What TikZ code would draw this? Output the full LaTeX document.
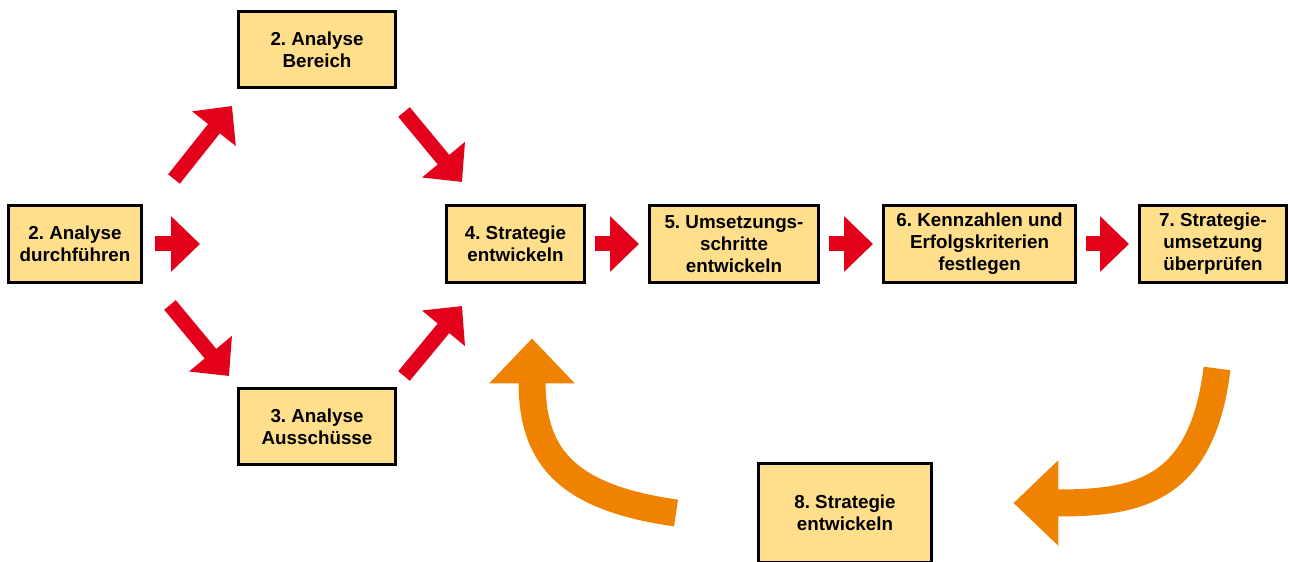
\documentclass[tikz,border=0pt]{standalone}
\usepackage{fontspec}
\setmainfont{Liberation Sans}
\usetikzlibrary{arrows.meta}
\frenchspacing
\definecolor{boxfill}{HTML}{FFDF8C}
\definecolor{arrowred}{HTML}{E2001A}
\definecolor{looporange}{HTML}{EF8200}
\tikzset{
    box/.style={draw=black, line width=1.7pt, fill=boxfill, align=center, inner sep=0pt,
        font=\bfseries\fontsize{10.7}{12.5}\selectfont, minimum height=1.54cm},
    redarrow/.style={draw=arrowred, line width=0.3cm, -{Triangle[width=1.08cm, length=0.58cm]}},
    bigarrow/.style={draw=looporange, line width=0.54cm, -{Triangle[width=1.66cm, length=0.9cm]}},
}

\begin{document}
\begin{tikzpicture}[x=0.02cm, y=0.02cm]

    % the frame
    \path[clip, use as bounding box] (0, 0) rectangle (1290, 561);

    % the boxes
    \node[box, minimum width=2.66cm] (A) at (75, 317) {2. Analyse\\durchführen};
    \node[box, minimum width=3.14cm, minimum height=1.52cm] (B) at (317, 511.5) {2. Analyse\\Bereich};
    \node[box, minimum width=3.14cm, minimum height=1.52cm] (C) at (317, 134.5) {3. Analyse\\Ausschüsse};
    \node[box, minimum width=2.76cm] (D) at (515.5, 317) {4. Strategie\\entwickeln};
    \node[box, minimum width=3.38cm] (E) at (734, 317) {5. Umsetzungs-\\schritte\\entwickeln};
    \node[box, minimum width=3.84cm] (F) at (979.5, 317) {6. Kennzahlen und\\Erfolgskriterien\\festlegen};
    \node[box, minimum width=2.94cm] (G) at (1213, 317) {7. Strategie-\\umsetzung\\überprüfen};
    \node[box, minimum width=3.46cm, minimum height=1.98cm] (H) at (845, 48) {8. Strategie\\entwickeln};

    % the arrow ends
    \coordinate (h1) at (200, 317);
    \coordinate (t2) at (174, 382);
    \coordinate (h2) at (232, 455);
    \coordinate (t3) at (170, 256);
    \coordinate (h3) at (229, 185);
    \coordinate (t4) at (404, 449);
    \coordinate (h4) at (462, 379);
    \coordinate (t5) at (404, 185);
    \coordinate (h5) at (462, 255);

    % the red arrows
    \draw[redarrow, shorten <=0.25cm] (A) -- (h1);
    \foreach \i in {2,...,5} {
        \draw[redarrow] (t\i) -- (h\i);
    }
    \foreach \a/\b in {D/E, E/F, F/G} {
        \draw[redarrow, shorten <=0.18cm, shorten >=0.18cm] (\a) -- (\b);
    }

    % the way back
    \draw[bigarrow] ([shift={(0.08cm, -1.69cm)}]G.south) to[out=-97, in=0, looseness=1.3] ([shift={(1.61cm, 0.2cm)}]H.east);
    \draw[bigarrow] ([xshift=-1.62cm]H.west) to[out=172, in=-90, looseness=1.3] ([shift={(0.33cm, -1.09cm)}]D.south);
\end{tikzpicture}
\end{document}
